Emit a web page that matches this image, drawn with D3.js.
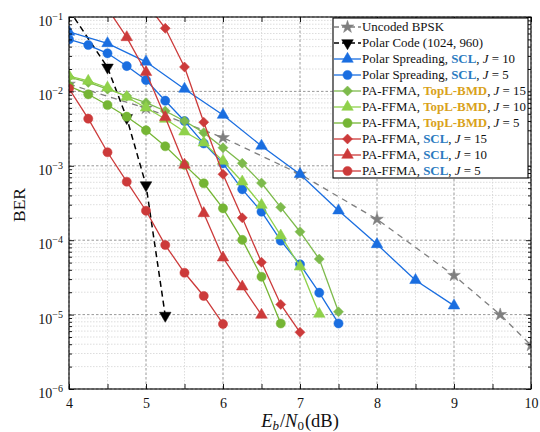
<!DOCTYPE html>
<html><head><meta charset="utf-8">
<script src="https://cdn.jsdelivr.net/npm/d3@7"></script>
<style>
html,body{margin:0;padding:0;background:#fff;}
svg{display:block;font-family:"Liberation Serif","Times New Roman",serif;}
</style></head>
<body><svg id="c" width="540" height="432"></svg>
<script>
// ---- data ----
const xTicks = [4,4.5,5,5.5,6,6.5,7,7.5,8,8.5,9,9.5,10];
const xTickLabels = ["4","","5","","6","","7","","8","","9","","10"];
const yDecades = [1e-6,1e-5,1e-4,1e-3,1e-2,1e-1];
const yTickExps = ["−6","−5","−4","−3","−2","−1"];

const xBPSK = [4,5,6,7,8,9,9.6,10];
const berBPSK = [1.25e-2,5.95e-3,2.39e-3,7.73e-4,1.91e-4,3.36e-5,1.0e-5,3.87e-6];

const xPolar = [4.0,4.5,4.75,5.0,5.25];
const berPolar = [1.25e-1,2.1e-2,4.4e-3,5.5e-4,9.7e-6];

const xPS10 = [4,4.5,5,5.5,6,6.5,7,7.5,8,8.5,9];
const berPS10 = [6.3e-2,4.43e-2,2.5e-2,1.08e-2,4.82e-3,1.85e-3,7.7e-4,2.5e-4,8.8e-5,2.9e-5,1.32e-5];

const xPS5 = [4,4.25,4.5,4.75,5,5.25,5.5,5.75,6,6.25,6.5,6.75,7,7.25,7.5];
const berPS5 = [5.0e-2,4.2e-2,3.25e-2,2.19e-2,1.42e-2,7.5e-3,4.0e-3,2.0e-3,1.08e-3,4.83e-4,2.42e-4,9.85e-5,4.74e-5,1.97e-5,7.6e-6];

const xTB15 = [4,4.25,4.5,4.75,5,5.25,5.5,5.75,6,6.25,6.5,6.75,7,7.25,7.5];
const berTB15 = [1.56e-2,1.32e-2,1.07e-2,8.67e-3,7.05e-3,5.45e-3,4.0e-3,2.79e-3,1.75e-3,1.08e-3,5.87e-4,2.77e-4,1.30e-4,5.58e-5,1.09e-5];

const xTB10 = [4,4.25,4.5,4.75,5,5.25,5.5,5.75,6,6.25,6.5,6.75,7,7.25];
const berTB10 = [1.61e-2,1.38e-2,1.12e-2,8.4e-3,6.04e-3,4.26e-3,2.87e-3,2.04e-3,1.16e-3,6.11e-4,2.97e-4,1.15e-4,4.41e-5,1.02e-5];

const xTB5 = [4,4.25,4.5,4.75,5,5.25,5.5,5.75,6,6.25,6.5,6.75];
const berTB5 = [1.18e-2,9.14e-3,6.56e-3,4.57e-3,3.0e-3,1.83e-3,1.03e-3,5.82e-4,2.68e-4,1.01e-4,3.23e-5,7.6e-6];

const xSCL15 = [5,5.25,5.5,5.75,6,6.25,6.5,6.75,7];
const berSCL15 = [1.55e-1,7.05e-2,2.13e-2,3.85e-3,7.7e-4,2.0e-4,5.05e-5,1.37e-5,5.78e-6];

const xSCL10 = [4.5,4.75,5,5.25,5.5,5.75,6,6.25,6.5];
const berSCL10 = [1.3e-1,5.33e-2,1.81e-2,4.49e-3,1.03e-3,2.3e-4,5.82e-5,2.37e-5,9.9e-6];

const xSCL5 = [4,4.25,4.5,4.75,5,5.25,5.5,5.75,6];
const berSCL5 = [1.09e-2,4.3e-3,1.52e-3,6.11e-4,2.49e-4,8.61e-5,3.65e-5,1.78e-5,7.48e-6];

// legend label pieces: [text, style]
const series = [
  {x:xBPSK, y:berBPSK, color:"#7f7f7f", marker:"star", dash:"6,5", width:1.3,
   label:[["Uncoded BPSK",""]]},
  {x:xPolar, y:berPolar, color:"#000000", marker:"tridown", dash:"6,4", width:1.5,
   label:[["Polar Code (1024, 960)",""]]},
  {x:xPS10, y:berPS10, color:"#1a6ee0", marker:"tri", dash:null, width:1.3,
   label:[["Polar Spreading, ",""],["SCL","scl"],[", ",""],["J","it"],[" = 10",""]]},
  {x:xPS5, y:berPS5, color:"#1a6ee0", marker:"circle", dash:null, width:1.3,
   label:[["Polar Spreading, ",""],["SCL","scl"],[", ",""],["J","it"],[" = 5",""]]},
  {x:xTB15, y:berTB15, color:"#7dba4c", marker:"diamond", dash:null, width:1.3,
   label:[["PA-FFMA, ",""],["TopL-BMD","tb"],[", ",""],["J","it"],[" = 15",""]]},
  {x:xTB10, y:berTB10, color:"#8fd14a", marker:"tri", dash:null, width:1.3,
   label:[["PA-FFMA, ",""],["TopL-BMD","tb"],[", ",""],["J","it"],[" = 10",""]]},
  {x:xTB5, y:berTB5, color:"#75b534", marker:"circle", dash:null, width:1.3,
   label:[["PA-FFMA, ",""],["TopL-BMD","tb"],[", ",""],["J","it"],[" = 5",""]]},
  {x:xSCL15, y:berSCL15, color:"#cc3a3a", marker:"diamond", dash:null, width:1.3,
   label:[["PA-FFMA, ",""],["SCL","scl"],[", ",""],["J","it"],[" = 15",""]]},
  {x:xSCL10, y:berSCL10, color:"#cc3a3a", marker:"tri", dash:null, width:1.3,
   label:[["PA-FFMA, ",""],["SCL","scl"],[", ",""],["J","it"],[" = 10",""]]},
  {x:xSCL5, y:berSCL5, color:"#cc3a3a", marker:"circle", dash:null, width:1.3,
   label:[["PA-FFMA, ",""],["SCL","scl"],[", ",""],["J","it"],[" = 5",""]]}
];

// ---- layout ----
const L=69, R=531, T=17, B=389;
const svg = d3.select("#c");
const x = d3.scaleLinear().domain([4,10]).range([L,R]);
const y = d3.scaleLog().domain([1e-6,1e-1]).range([B,T]);

svg.append("defs").append("clipPath").attr("id","clip")
  .append("rect").attr("x",L).attr("y",T).attr("width",R-L).attr("height",B-T);

// minor y values
const yMinor = [];
yDecades.slice(0,5).forEach(d=>{ for(let k=2;k<=9;k++) yMinor.push(d*k); });

// grid
const grid = svg.append("g");
grid.selectAll(".vgm").data(xTicks.filter((d,i)=>i%2===1)).enter().append("line")
  .attr("x1",d=>x(d)).attr("x2",d=>x(d)).attr("y1",T).attr("y2",B)
  .attr("stroke","#d4d4d4").attr("stroke-width",0.8).attr("stroke-dasharray","1.5,1.5");
grid.selectAll(".hgm").data(yMinor).enter().append("line")
  .attr("x1",L).attr("x2",R).attr("y1",d=>y(d)).attr("y2",d=>y(d))
  .attr("stroke","#d4d4d4").attr("stroke-width",0.8).attr("stroke-dasharray","1.5,1.5");
grid.selectAll(".vg").data(xTicks.filter((d,i)=>i%2===0)).enter().append("line")
  .attr("x1",d=>x(d)).attr("x2",d=>x(d)).attr("y1",T).attr("y2",B)
  .attr("stroke","#8c8c8c").attr("stroke-width",0.9).attr("stroke-dasharray","2.5,2");
grid.selectAll(".hg").data(yDecades).enter().append("line")
  .attr("x1",L).attr("x2",R).attr("y1",d=>y(d)).attr("y2",d=>y(d))
  .attr("stroke","#8c8c8c").attr("stroke-width",0.9).attr("stroke-dasharray","2.5,2");

// symbols
function symPath(m){
  if(m==="circle") return d3.symbol(d3.symbolCircle,66)();
  if(m==="tri"||m==="tridown") return d3.symbol(d3.symbolTriangle,58)();
  if(m==="diamond") return d3.symbol(d3.symbolSquare,50)();
  if(m==="star") return d3.symbol(d3.symbolStar,50)();
}
function symRot(m){ return m==="tridown"?180:(m==="diamond"?45:0); }

const plot = svg.append("g").attr("clip-path","url(#clip)");
const line = d3.line().x(d=>x(d[0])).y(d=>y(d[1]));
series.forEach(s=>{
  const pts = s.x.map((v,i)=>[v,s.y[i]]);
  plot.append("path").datum(pts).attr("d",line).attr("fill","none")
    .attr("stroke",s.color).attr("stroke-width",s.width)
    .attr("stroke-dasharray",s.dash);
  plot.selectAll(null).data(pts).enter().append("path")
    .attr("d",symPath(s.marker))
    .attr("transform",d=>`translate(${x(d[0])},${y(d[1])}) rotate(${symRot(s.marker)})`)
    .attr("fill",s.color).attr("stroke",s.color).attr("stroke-width",0.5);
});

// axes
const fs = 14;
const axB = svg.append("g").attr("transform",`translate(0,${B})`)
  .call(d3.axisBottom(x).tickValues(xTicks).tickSize(-5).tickPadding(10)
        .tickFormat((d,i)=>xTickLabels[i]));
const axT = svg.append("g").attr("transform",`translate(0,${T})`)
  .call(d3.axisTop(x).tickValues(xTicks).tickSize(-5).tickFormat(""));
const axL = svg.append("g").attr("transform",`translate(${L},0)`)
  .call(d3.axisLeft(y).tickValues(yDecades).tickSize(-5).tickPadding(7)
        .tickFormat(()=>"10"));
const axLm = svg.append("g").attr("transform",`translate(${L},0)`)
  .call(d3.axisLeft(y).tickValues(yMinor).tickSize(-3).tickFormat(""));
const axR = svg.append("g").attr("transform",`translate(${R},0)`)
  .call(d3.axisRight(y).tickValues(yDecades).tickSize(-5).tickFormat(""));
const axRm = svg.append("g").attr("transform",`translate(${R},0)`)
  .call(d3.axisRight(y).tickValues(yMinor).tickSize(-3).tickFormat(""));
[axB,axT,axL,axLm,axR,axRm].forEach(a=>{
  a.select(".domain").remove();
  a.selectAll(".tick line").attr("stroke","#000").attr("stroke-width",0.9);
  a.selectAll("text").attr("font-family","Liberation Serif, Times New Roman, serif")
    .attr("font-size",fs).attr("fill","#111");
});
axB.selectAll("text").attr("dy","0.62em");
axL.selectAll(".tick text").each(function(d,i){
  const t = d3.select(this);
  t.text(null).attr("dy","0.6em").attr("x",-6);
  t.append("tspan").text("10");
  t.append("tspan").attr("dy","-0.6em").attr("font-size",10).text(yTickExps[i]);
});

// frame
svg.append("rect").attr("x",L).attr("y",T).attr("width",R-L).attr("height",B-T)
  .attr("fill","none").attr("stroke","#000").attr("stroke-width",1.1);

// axis labels
svg.append("text").attr("transform","translate(25,205) rotate(-90)")
  .attr("text-anchor","middle").attr("font-size",17.5).attr("fill","#111").text("BER");
const xl = svg.append("text").attr("x",300).attr("y",427).attr("text-anchor","middle")
  .attr("font-size",18.5).attr("fill","#111");
xl.append("tspan").attr("font-style","italic").text("E");
xl.append("tspan").attr("font-style","italic").attr("font-size",13).attr("dy",3).text("b");
xl.append("tspan").attr("dy",-3).attr("dx",1).text("/");
xl.append("tspan").attr("font-style","italic").text("N");
xl.append("tspan").attr("font-size",13).attr("dy",3).text("0");
xl.append("tspan").attr("dy",-3).attr("dx",1).text("(dB)");

// legend
const lg = svg.append("g");
const lx=333, ly=18, lw=195, lh=160, rowH=16;
lg.append("rect").attr("x",lx).attr("y",ly).attr("width",lw).attr("height",lh)
  .attr("fill","#fff").attr("stroke","#000").attr("stroke-width",1.1);
const styles = {
  "":{}, "it":{fs:"italic"},
  "scl":{fw:"bold",fill:"#2b7bbf"},
  "tb":{fw:"bold",fill:"#d9a21b"}
};
series.forEach((s,i)=>{
  const cy = ly + 9 + i*rowH;
  lg.append("line").attr("x1",lx+1).attr("x2",lx+28).attr("y1",cy).attr("y2",cy)
    .attr("stroke",s.color).attr("stroke-width",s.width)
    .attr("stroke-dasharray",s.dash?"5,3":null);
  lg.append("path").attr("d",symPath(s.marker))
    .attr("transform",`translate(${lx+14.5},${cy}) rotate(${symRot(s.marker)})`)
    .attr("fill",s.color).attr("stroke",s.color).attr("stroke-width",0.5);
  const t = lg.append("text").attr("x",lx+29).attr("y",cy+4.3).attr("font-size",12.9)
    .attr("fill","#111").attr("xml:space","preserve");
  s.label.forEach(([txt,st])=>{
    const sp = t.append("tspan").text(txt);
    const o = styles[st];
    if(o.fs) sp.attr("font-style",o.fs);
    if(o.fw) sp.attr("font-weight",o.fw);
    if(o.fill) sp.attr("fill",o.fill);
  });
});
</script></body></html>
